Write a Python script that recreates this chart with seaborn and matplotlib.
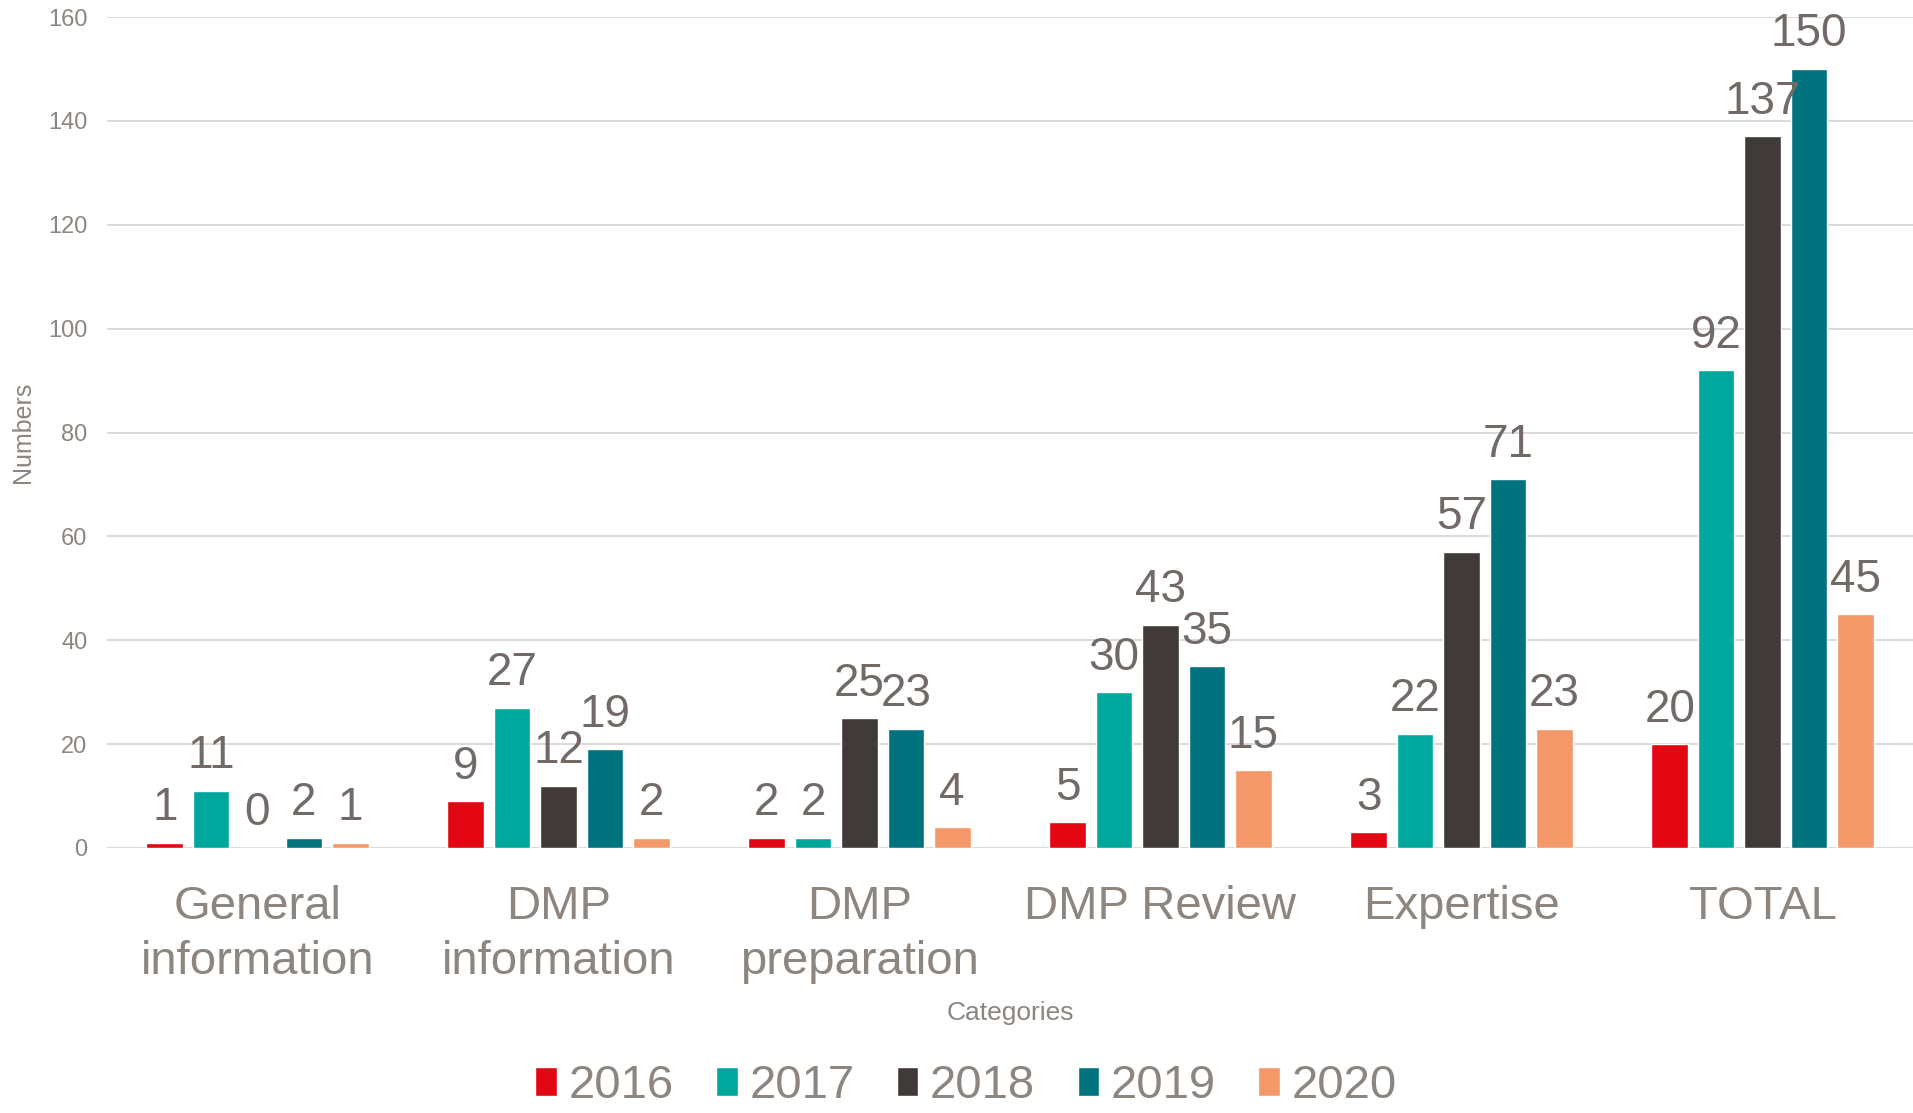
import pandas as pd
import matplotlib
matplotlib.use("Agg")
import matplotlib.pyplot as plt
import seaborn as sns

# data
categories = ["General\ninformation", "DMP\ninformation", "DMP\npreparation",
              "DMP Review", "Expertise", "TOTAL"]
years = ["2016", "2017", "2018", "2019", "2020"]
v2016 = [1, 9, 2, 5, 3, 20]
v2017 = [11, 27, 2, 30, 22, 92]
v2018 = [0, 12, 25, 43, 57, 137]
v2019 = [2, 19, 23, 35, 71, 150]
v2020 = [1, 2, 4, 15, 23, 45]
colors = ["#E30613", "#00A79D", "#403B38", "#00737F", "#F4986A"]

rows = []
for year, vals in zip(years, [v2016, v2017, v2018, v2019, v2020]):
    for cat, v in zip(categories, vals):
        rows.append({"Category": cat, "Year": year, "Count": v})
df = pd.DataFrame(rows)

sns.set_theme(style="white")
plt.rcParams["font.family"] = ["Liberation Sans", "DejaVu Sans"]

tick_grey = "#8c8580"
label_grey = "#716a67"

fig = plt.figure(figsize=(19.13, 11.13), dpi=100)
ax = fig.add_axes([107 / 1913, 0.2381, 1 - 107 / 1913, 0.7466])

sns.barplot(data=df, x="Category", y="Count", hue="Year", hue_order=years,
            palette=colors, width=0.77, gap=0.21, saturation=1, ax=ax)

for cont in ax.containers:
    ax.bar_label(cont, fmt="%d", padding=9, fontsize=33, color=label_grey)

ax.set_ylim(0, 160)
ax.set_yticks(range(0, 161, 20))
ax.yaxis.grid(True, color="#d9d9d9", linewidth=1.4)
ax.set_axisbelow(True)
sns.despine(ax=ax, left=True, bottom=True)

ax.tick_params(axis="y", length=0, labelsize=17, labelcolor=tick_grey, pad=14)
ax.tick_params(axis="x", length=0, labelsize=34, labelcolor=tick_grey, pad=27)
for t in ax.get_xticklabels():
    t.set_linespacing(1.3)

ax.set_xlabel("Categories", fontsize=19, color=tick_grey)
ax.xaxis.set_label_coords(0.5, -0.184)
ax.set_ylabel("Numbers", fontsize=18, color=tick_grey)
ax.yaxis.set_label_coords(-0.040, 0.5)

handles, labels = ax.get_legend_handles_labels()
ax.get_legend().remove()
fig.legend(handles, labels, loc="center", bbox_to_anchor=(0.505, 0.024),
           ncol=5, frameon=False, fontsize=34, labelcolor=tick_grey,
           handlelength=0.45, handleheight=0.55, handletextpad=0.25,
           columnspacing=0.9, borderaxespad=0, borderpad=0)

fig.savefig("out.png", dpi=100)
print("Saved out.png")
